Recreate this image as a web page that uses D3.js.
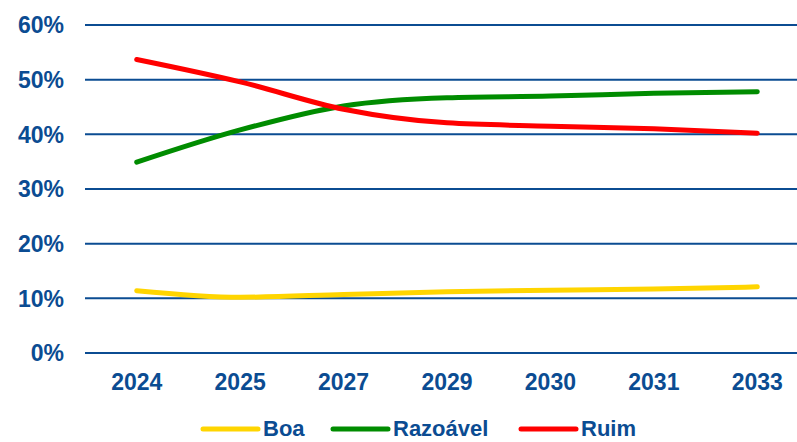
<!DOCTYPE html>
<meta charset="utf-8">
<style>
body { margin: 0; background: #fff; }
text { font-family: Arial, "Liberation Sans", sans-serif; font-weight: bold; fill: #0b4c92; }
.grid line { stroke: #0b4c92; stroke-width: 2px; }
.serie { fill: none; stroke-width: 5px; stroke-linecap: round; stroke-linejoin: round; }
</style>
<body>
<script src="https://cdn.jsdelivr.net/npm/d3@7"></script>
<script>

var anos = ["2024", "2025", "2027", "2029", "2030", "2031", "2033"];
var boa = [11.4, 10.2, 10.7, 11.2, 11.5, 11.7, 12.1];
var razoavel = [34.9, 40.8, 45.2, 46.7, 47.0, 47.5, 47.8];
var ruim = [53.7, 49.6, 44.6, 42.1, 41.5, 41.0, 40.2];
var yTicks = [0, 10, 20, 30, 40, 50, 60];

var series = [
  {nome: "Boa", cor: "#ffd500", valores: boa},
  {nome: "Razoável", cor: "#008c00", valores: razoavel},
  {nome: "Ruim", cor: "#ff0000", valores: ruim}
];

var width = 797,
    height = 442;

var svg = d3.select("body").append("svg")
    .attr("width", width)
    .attr("height", height);

var x = d3.scaleBand().domain(anos).range([85, 809]);
var y = d3.scaleLinear().domain([0, 60]).range([353, 25]);

// gridlines
svg.append("g").attr("class", "grid")
  .selectAll("line")
  .data(yTicks)
  .enter().append("line")
    .attr("x1", 85)
    .attr("x2", width)
    .attr("y1", d => y(d))
    .attr("y2", d => y(d));

// y labels
svg.append("g")
  .selectAll("text")
  .data(yTicks)
  .enter().append("text")
    .attr("x", 64)
    .attr("y", d => y(d))
    .attr("dy", "0.36em")
    .attr("text-anchor", "end")
    .style("font-size", "23px")
    .text(d => d + "%");

// x labels
svg.append("g")
  .selectAll("text")
  .data(anos)
  .enter().append("text")
    .attr("x", d => x(d) + x.bandwidth() / 2)
    .attr("y", 390)
    .attr("text-anchor", "middle")
    .style("font-size", "23px")
    .text(d => d);

var line = d3.line()
    .x((d, i) => x(anos[i]) + x.bandwidth() / 2)
    .y(d => y(d))
    .curve(d3.curveMonotoneX);

svg.append("g")
  .selectAll("path")
  .data(series)
  .enter().append("path")
    .attr("class", "serie")
    .attr("stroke", d => d.cor)
    .attr("d", d => line(d.valores));

// legend
var legX = [203, 333, 521];
var leg = svg.append("g")
  .selectAll("g")
  .data(series)
  .enter().append("g")
    .attr("transform", (d, i) => "translate(" + legX[i] + ",429)");

leg.append("line")
    .attr("x1", 0).attr("x2", 55)
    .attr("stroke", d => d.cor)
    .attr("stroke-width", 5)
    .attr("stroke-linecap", "round");

leg.append("text")
    .attr("x", 60)
    .attr("y", 7)
    .style("font-size", "22px")
    .text(d => d.nome);

</script>
</body>
</html>
